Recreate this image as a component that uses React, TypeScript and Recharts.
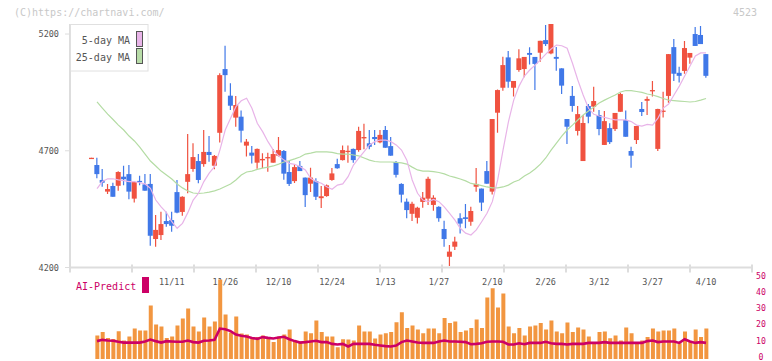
import { Bar, ComposedChart, Line, XAxis, YAxis } from "recharts";

const OPEN = [
  4668, 4639, 4575, 4525, 4549, 4550, 4589, 4600, 4495, 4571,
  4556, 4558, 4322, 4339, 4399, 4403, 4523, 4438, 4567, 4622,
  4656, 4643, 4695, 4636, 4777, 5050, 4936, 4842, 4846, 4722,
  4692, 4649, 4659, 4668, 4649, 4679, 4699, 4609, 4570, 4635,
  4585, 4559, 4570, 4497, 4506, 4575, 4643, 4660, 4695, 4708,
  4703, 4753, 4732, 4759, 4736, 4789, 4720, 4652, 4558, 4482,
  4430, 4413, 4481, 4495, 4468, 4460, 4365, 4246, 4289, 4411,
  4415, 4396, 4546, 4538, 4613, 4525, 4863, 4970, 5100, 4970,
  5046, 5050, 5119, 5102, 5120, 5174, 5117, 5102, 5053, 4836,
  4935, 4785, 4656, 4892, 4889, 4853, 4725, 4797, 4793, 4867,
  4832, 4699, 4746, 4879, 4914, 4956, 4708, 4868, 4935, 5144,
  5034, 5042, 5099, 5200, 5196, 5114,
];

const HIGH = [
  4670, 4670, 4622, 4558, 4563, 4612, 4636, 4639, 4566, 4593,
  4600, 4600, 4425, 4439, 4439, 4439, 4575, 4505, 4772, 4732,
  4686, 4789, 4763, 4682, 5032, 5150, 4989, 4935, 4872, 4750,
  4720, 4710, 4689, 4692, 4708, 4759, 4703, 4656, 4639, 4656,
  4585, 4627, 4582, 4549, 4555, 4626, 4666, 4723, 4723, 4710,
  4803, 4816, 4789, 4789, 4789, 4806, 4759, 4656, 4561, 4496,
  4482, 4460, 4523, 4589, 4510, 4462, 4400, 4296, 4332, 4432,
  4472, 4460, 4626, 4538, 4656, 4836, 4962, 5103, 5127, 4999,
  5135, 5102, 5143, 5102, 5171, 5239, 5243, 5145, 5053, 4836,
  4977, 4892, 4853, 4900, 4974, 4875, 4870, 4818, 4862, 4949,
  4872, 4717, 4806, 4909, 4932, 4999, 4880, 4953, 5114, 5179,
  5060, 5170, 5119, 5230, 5234, 5114,
];

const LOW = [
  4668, 4582, 4546, 4515, 4503, 4529, 4552, 4492, 4478, 4552,
  4529, 4293, 4289, 4318, 4375, 4353, 4432, 4422, 4518, 4610,
  4561, 4632, 4653, 4621, 4735, 4953, 4875, 4803, 4735, 4675,
  4646, 4623, 4626, 4610, 4649, 4675, 4576, 4549, 4562, 4613,
  4459, 4523, 4489, 4455, 4503, 4572, 4623, 4658, 4649, 4649,
  4696, 4706, 4706, 4725, 4732, 4713, 4679, 4585, 4478, 4411,
  4399, 4388, 4456, 4468, 4443, 4396, 4289, 4206, 4275, 4346,
  4368, 4379, 4525, 4442, 4559, 4513, 4777, 4957, 4970, 4932,
  5039, 5015, 5070, 4960, 5081, 5149, 5113, 5043, 4943, 4729,
  4867, 4765, 4656, 4818, 4867, 4767, 4725, 4729, 4785, 4867,
  4760, 4627, 4729, 4849, 4853, 4932, 4699, 4842, 4906, 4999,
  4992, 5030, 5073, 5149, 5157, 5013,
];

const CLOSE = [
  4670, 4600, 4563, 4536, 4503, 4609, 4578, 4525, 4566, 4566,
  4529, 4336, 4361, 4386, 4386, 4379, 4435, 4503, 4600, 4673,
  4575, 4695, 4682, 4678, 5024, 5024, 4893, 4896, 4786, 4739,
  4679, 4708, 4665, 4673, 4686, 4703, 4602, 4558, 4630, 4613,
  4510, 4585, 4503, 4505, 4552, 4603, 4625, 4703, 4700, 4660,
  4785, 4759, 4717, 4750, 4768, 4713, 4679, 4597, 4512, 4446,
  4473, 4456, 4499, 4580, 4499, 4411, 4322, 4268, 4311, 4388,
  4408, 4442, 4558, 4478, 4559, 4836, 4960, 5067, 4996, 4999,
  5096, 5102, 5111, 5072, 5171, 5157, 5243, 5094, 4979, 4803,
  4892, 4857, 4819, 4846, 4913, 4793, 4827, 4737, 4862, 4943,
  4760, 4679, 4806, 4866, 4922, 4960, 4879, 4872, 5114, 5030,
  5021, 5140, 5119, 5149, 5157, 5021,
];

const MA5 = [
  null,
  4538, 4568, 4580, 4580, 4575, 4572, 4568, 4568, 4563, 4558,
  4539, 4489, 4460, 4435, 4396, 4368, 4389, 4435, 4489, 4518,
  4568, 4604, 4632, 4703, 4789, 4839, 4889, 4914, 4925, 4882,
  4818, 4782, 4739, 4703, 4678, 4660, 4646, 4642, 4632, 4618,
  4582, 4568, 4561, 4546, 4535, 4553, 4558, 4589, 4639, 4668,
  4696, 4725, 4739, 4746, 4746, 4739, 4725, 4703, 4660, 4575,
  4518, 4489, 4482, 4492, 4482, 4460, 4432, 4403, 4368, 4347,
  4339, 4361, 4396, 4432, 4482, 4575, 4703, 4823, 4917, 4977,
  5020, 5046, 5067, 5089, 5114, 5136, 5153, 5150, 5139, 5075,
  5003, 4939, 4882, 4856, 4849, 4843, 4837, 4832, 4832, 4832,
  4825, 4810, 4806, 4813, 4810, 4840, 4883, 4900, 4939, 4977,
  5020, 5063, 5106, 5119, 5119,
];

const MA25 = [
  null,
  4909, 4883, 4857, 4834, 4810, 4789, 4763, 4742, 4716, 4686,
  4656, 4635, 4613, 4596, 4579, 4558, 4541, 4528, 4519, 4517,
  4519, 4523, 4528, 4536, 4547, 4558, 4575, 4596, 4609, 4613,
  4620, 4626, 4630, 4635, 4643, 4652, 4658, 4665, 4673, 4686,
  4690, 4695, 4695, 4695, 4693, 4688, 4686, 4686, 4682, 4678,
  4669, 4660, 4654, 4652, 4652, 4652, 4650, 4648, 4643, 4630,
  4618, 4613, 4613, 4611, 4607, 4601, 4592, 4586, 4579, 4571,
  4560, 4556, 4551, 4545, 4541, 4541, 4545, 4553, 4566, 4575,
  4592, 4605, 4622, 4643, 4669, 4703, 4733, 4763, 4789, 4810,
  4832, 4853, 4870, 4887, 4905, 4917, 4928, 4939, 4952, 4958,
  4958, 4954, 4950, 4943, 4939, 4932, 4924, 4917, 4915, 4913,
  4911, 4909, 4911, 4917, 4924,
];

const VOLUME = [
  null,
  14.6, 16.7, 13.1, 12.5, 17.3, 11.5, 14, 18.9, 17.7, 17.7,
  33.2, 21.4, 20.2, 13.1, 14, 20.8, 25.2, 31.4, 20.2, 17.1,
  25.8, 20.2, 23.3, 49.4, 27.6, 16.5, 26.4, 15.8, 15.2, 13.6,
  13.6, 14.6, 13.1, 10.5, 14, 15.2, 18.3, 11.5, 10.9, 17.1,
  16, 23.9, 16.7, 14, 14, 7.3, 12.3, 12.1, 11.5, 20.8,
  17.1, 17.1, 12.7, 15.2, 16, 16.7, 22.9, 29.1, 19.2, 20.8,
  18.3, 16, 18.9, 18.9, 16, 25.4, 22.3, 23.3, 16.7, 17.7,
  19.2, 24.5, 19.2, 38.2, 44, 32, 40.7, 20.2, 16, 19.2,
  14.6, 20.2, 20.8, 22.3, 18.3, 23.9, 17.1, 16, 22.7, 16.7,
  19.6, 18.3, 14, 9.8, 16.7, 17.1, 12.9, 14.6, 11.5, 19.6,
  16, 9.8, 11.5, 13.6, 18.9, 17.1, 17.7, 17.7, 18.9, 9.8,
  17.1, 10.5, 18.3, 13.6, 18.9,
];

const AI_PREDICT = [
  null,
  11.1, 11.9, 11.5, 11.3, 10.7, 10.2, 10.2, 10.2, 10.2, 10.9,
  12.1, 11.1, 10.2, 11.1, 10.9, 10.7, 10.7, 11.5, 10.5, 10.2,
  11.3, 11.5, 11.9, 18.9, 18.5, 17.3, 15.2, 14.4, 14, 13.1,
  12.5, 13.6, 13.1, 12.7, 13.4, 13.8, 12.3, 11.1, 10.2, 10.5,
  10.9, 11.3, 10.5, 10.5, 9.4, 9, 9.4, 7.8, 9.4, 9.4,
  9.4, 9.4, 8.8, 8.4, 8, 7.8, 8.4, 10.5, 11.5, 10.9,
  10.2, 10, 10, 10, 10.9, 11.5, 10.9, 10.9, 10.7, 10.5,
  9.2, 9.4, 9.8, 10.7, 10.9, 10.9, 10.7, 9, 9, 9.8,
  9.2, 10, 10, 10, 10.7, 9.8, 9.4, 9.4, 9, 9.4,
  9.4, 9.4, 10, 10, 10, 10.5, 10, 10, 10, 10,
  10, 10, 10, 11.1, 11.5, 10.5, 10.9, 10.9, 10.9, 10,
  12.3, 10.9, 10, 10.5, 10,
];

const DATE_TICKS = [15, 25, 35, 45, 55, 65, 75, 85, 95, 105, 115];
const DATE_LABELS = ["11/11", "11/26", "12/10", "12/24", "1/13", "1/27", "2/10", "2/26", "3/12", "3/27", "4/10"];
const PRICE_TICKS = [4200, 4700, 5200];
const VOL_TICKS = [0, 10, 20, 30, 40, 50];
const MARK_TICKS = [0, 1, 2, 3, 4, 5, 6, 7, 8, 9, 10, 11];

const DATA = OPEN.map((o, i) => ({
  i,
  o,
  h: HIGH[i],
  l: LOW[i],
  c: CLOSE[i],
  ma5: MA5[i],
  ma25: MA25[i],
  v: VOLUME[i],
  ai: AI_PREDICT[i],
}));
const MARKS = MARK_TICKS.map((k) => ({ k }));

const UP = "#f05240";
const DOWN = "#4078e8";
const AXIS = "#dddddd";
const MAGENTA = "#cc0066";
const MONO = '"DejaVu Sans Mono", "Liberation Mono", monospace';
const PAD = { left: 19, right: 43.3 };

function Candle(props: any) {
  const { x, y, width, height, payload } = props;
  const { o, h, l, c } = payload;
  const span = h - l;
  const py = (v: number) => (span > 0 ? y + ((h - v) / span) * height : y);
  const color = c >= o ? UP : DOWN;
  const top = py(Math.max(o, c));
  const bot = py(Math.min(o, c));
  const cx = x + width / 2;
  return (
    <g>
      <line x1={cx} x2={cx} y1={y} y2={y + height} stroke={color} strokeWidth={1.2} />
      <rect x={x} y={top} width={width} height={Math.max(bot - top, 1.3)} fill={color} />
    </g>
  );
}

function VolTick(props: any) {
  const { x, y, payload } = props;
  return (
    <text
      x={x}
      y={y - 2.4}
      textAnchor="middle"
      dominantBaseline="central"
      fill={MAGENTA}
      fontSize={8.2}
      fontFamily={MONO}
    >
      {payload.value}
    </text>
  );
}

export default function App() {
  return (
    <div style={{ position: "relative", width: 772, height: 361, background: "#fff", overflow: "hidden" }}>
      <style>{"body{margin:0}"}</style>

      {/* axis tick marks, evenly spaced along the bottom axis */}
      <div style={{ position: "absolute", left: 0, top: 0 }}>
        <ComposedChart width={772} height={300} data={MARKS} margin={{ top: 24, right: 20, bottom: 31.5, left: 70 }}>
          <XAxis
            dataKey="k"
            type="number"
            domain={[0, 11]}
            allowDataOverflow
            ticks={MARK_TICKS}
            height={1}
            axisLine={false}
            tickSize={8}
            tickLine={{ stroke: AXIS, strokeWidth: 2, transform: "translate(0,-3)" }}
            tick={() => <g />}
          />
          <YAxis hide domain={[0, 20]} />
          <Line dataKey="k" stroke="none" dot={false} isAnimationActive={false} />
        </ComposedChart>
      </div>

      <div style={{ position: "absolute", left: 0, top: 0 }}>
        <ComposedChart width={772} height={300} data={DATA} margin={{ top: 24, right: 20, bottom: 31.5, left: 0 }}>
          <XAxis
            dataKey="i"
            type="category"
            height={1}
            padding={PAD}
            ticks={DATE_TICKS}
            interval={0}
            tickFormatter={(i) => DATE_LABELS[DATE_TICKS.indexOf(i)] ?? ""}
            tickLine={false}
            tickSize={6}
            tickMargin={5}
            axisLine={{ stroke: AXIS, strokeWidth: 2 }}
            tick={{ fill: "#555", fontSize: 8.5, fontFamily: MONO }}
          />
          <YAxis
            width={70}
            domain={[4200, 5243]}
            allowDataOverflow
            ticks={PRICE_TICKS}
            interval={0}
            tickSize={5}
            tickMargin={6}
            tickLine={{ stroke: AXIS }}
            axisLine={{ stroke: AXIS, strokeWidth: 2 }}
            tick={{ fill: "#555", fontSize: 8.5, fontFamily: MONO }}
          />
          <Line dataKey="ma25" stroke="#b4dca4" strokeWidth={1.2} dot={false} isAnimationActive={false} />
          <Line dataKey="ma5" stroke="#e8b4e8" strokeWidth={1.2} dot={false} isAnimationActive={false} />
          <Bar
            dataKey={(d: any) => [d.l, d.h]}
            barSize={5}
            shape={(p: any) => <Candle {...p} />}
            isAnimationActive={false}
          />
        </ComposedChart>
      </div>

      <div style={{ position: "absolute", left: 0, top: 0 }}>
        <ComposedChart width={772} height={361} data={DATA} margin={{ top: 278.5, right: 0, bottom: 2, left: 70 }}>
          <XAxis dataKey="i" type="category" hide padding={PAD} />
          <YAxis
            orientation="right"
            width={20}
            domain={[0, 50]}
            allowDataOverflow
            ticks={VOL_TICKS}
            interval={0}
            axisLine={false}
            tickLine={false}
            tickSize={0}
            tickMargin={9}
            tick={(p: any) => <VolTick {...p} />}
          />
          <Bar dataKey="v" fill="#f29640" barSize={4} isAnimationActive={false} />
          <Line dataKey="ai" stroke={MAGENTA} strokeWidth={2.6} dot={false} isAnimationActive={false} />
        </ComposedChart>
      </div>

      <svg width={772} height={361} style={{ position: "absolute", left: 0, top: 0, pointerEvents: "none" }}>
        <g fontFamily={MONO} fontSize={10}>
          <text x={14} y={12} dominantBaseline="central" fill="#c8c8c8">(C)https://chartnavi.com/</text>
          <text x={757} y={12} textAnchor="end" dominantBaseline="central" fill="#c8c8c8">4523</text>

          <rect x={70.5} y={24.5} width={77.5} height={46.5} fill="#fff" stroke="#e0e0e0" />
          <text x={130} y={40} textAnchor="end" dominantBaseline="central" fill="#555">5-day MA</text>
          <rect x={136.5} y={31.5} width={6} height={15} fill="#e8b4e8" stroke="#555" />
          <text x={130} y={57} textAnchor="end" dominantBaseline="central" fill="#555">25-day MA</text>
          <rect x={136.5} y={48.5} width={6} height={15} fill="#b8dca8" stroke="#555" />

          <text x={76} y={286} dominantBaseline="central" fill={MAGENTA}>AI-Predict</text>
          <rect x={142} y={277} width={7} height={16} fill={MAGENTA} />
        </g>
      </svg>
    </div>
  );
}
